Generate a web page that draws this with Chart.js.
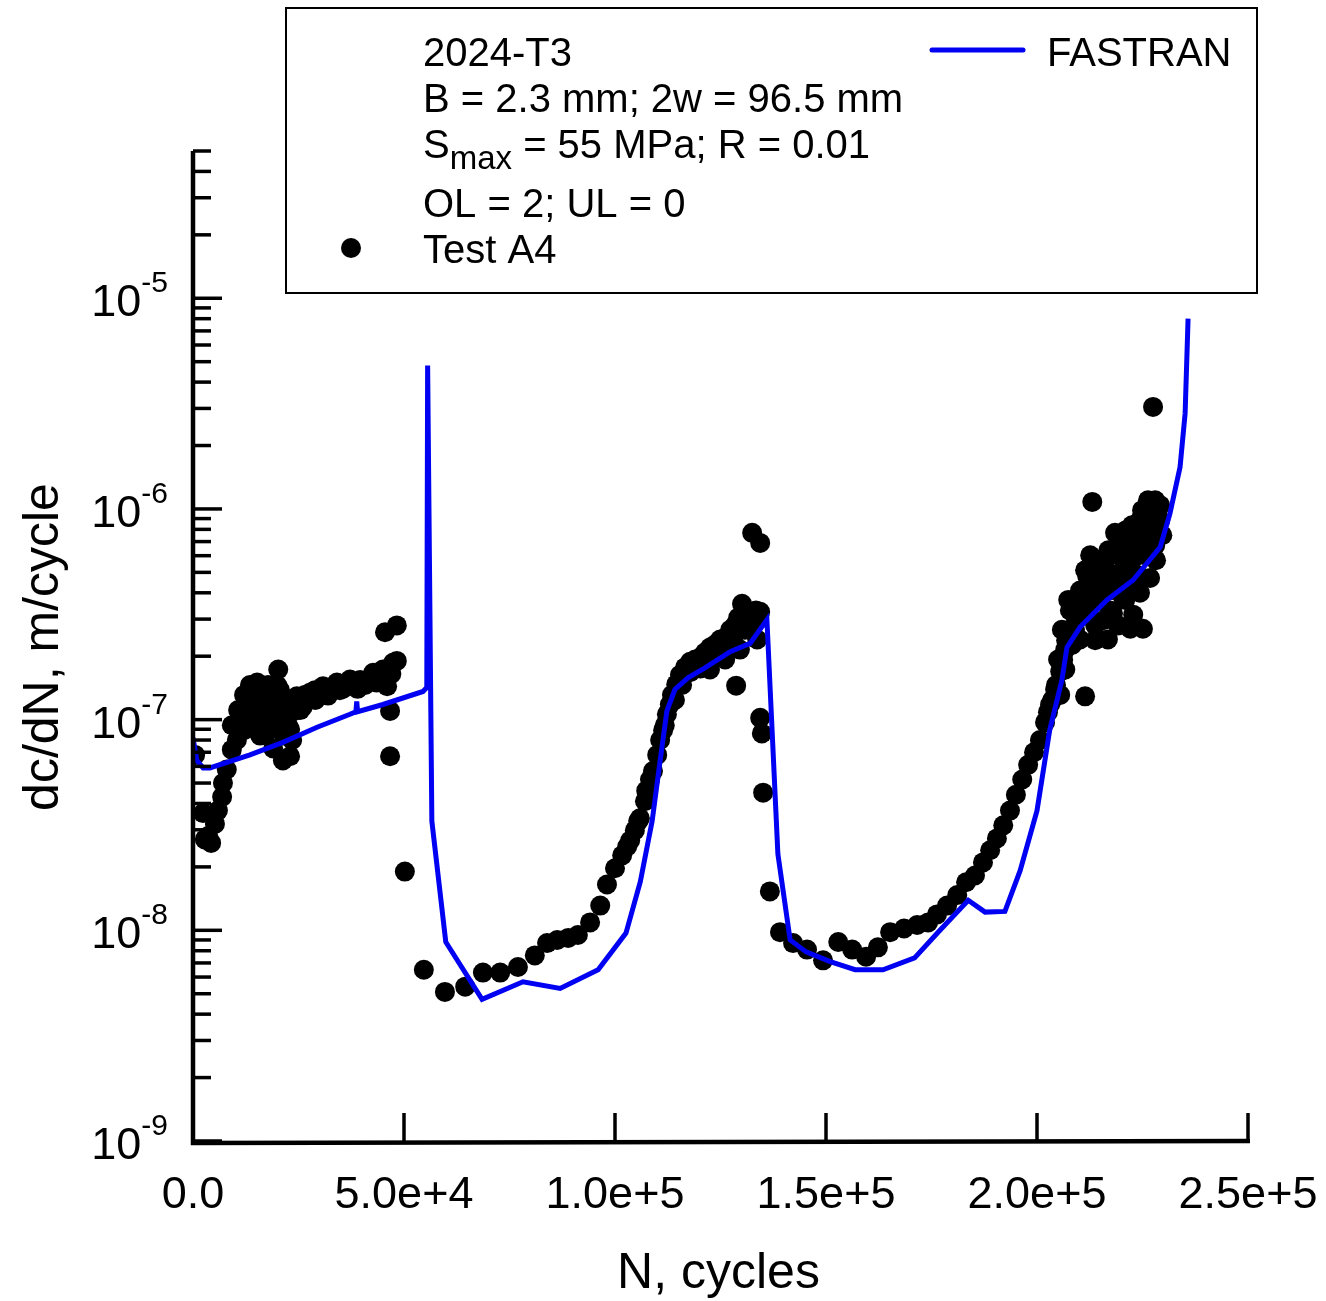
<!DOCTYPE html>
<html>
<head>
<meta charset="utf-8">
<script src="https://cdn.jsdelivr.net/npm/chart.js@4.4.1/dist/chart.umd.min.js"></script>
<style>
  html, body { margin: 0; padding: 0; background: #fff; }
  #wrap { width: 1326px; height: 1301px; }
</style>
</head>
<body>
<div id="wrap"><canvas id="chartContainer" width="1326" height="1301"></canvas></div>
<script>
// FASTRAN prediction (N cycles, dc/dN m/cycle)
var fastranN = [0, 900, 2400, 4000, 13500, 21300, 29400, 37200, 38600, 38800, 39000, 45000, 54500, 55400,
  55600, 56600, 59900, 68500, 78200, 87000, 96000, 102600, 106000, 108800, 110700, 112300, 114200,
  117300, 121300, 127300, 132000, 136000, 138600, 141500, 145300, 151000, 156900, 163500, 171000,
  177000, 183700, 187700, 192400, 196000, 200000, 203000, 205900, 207100, 210200, 216600, 222800,
  229200, 231500, 233900, 235100, 235800];
var fastranRate = [8.2e-8, 6.4e-8, 5.9e-8, 5.9e-8, 6.8e-8, 7.8e-8, 9.2e-8, 1.06e-7, 1.09e-7, 1.22e-7, 1.09e-7, 1.18e-7, 1.36e-7, 1.42e-7,
  4.8e-6, 3.3e-8, 8.8e-9, 4.7e-9, 5.7e-9, 5.3e-9, 6.5e-9, 9.7e-9, 1.7e-8, 3.3e-8, 6.4e-8, 1.1e-7, 1.39e-7,
  1.58e-7, 1.76e-7, 2.1e-7, 2.3e-7, 2.98e-7, 2.3e-8, 9.0e-9, 7.9e-9, 7.1e-9, 6.5e-9, 6.5e-9, 7.4e-9,
  1.0e-8, 1.39e-8, 1.22e-8, 1.23e-8, 1.92e-8, 3.7e-8, 8.9e-8, 1.54e-7, 2.2e-7, 2.75e-7, 3.7e-7, 4.6e-7,
  6.6e-7, 9.5e-7, 1.58e-6, 2.84e-6, 8.0e-6];

// Test A4 measurements
var testN = [500, 2400, 2800, 3600, 4300, 5200, 5900, 6900, 7100, 8000, 9200, 10400, 11000, 11900, 12800,
  13000, 13500, 14200, 15200, 15900, 16000, 16600, 17500, 18000, 18200, 19000, 19900, 20000, 20200, 21300,
  21300, 22000, 22300, 23000, 23000, 24000, 24600, 26000, 27700, 28500, 30800, 32000, 34100, 35500, 37200,
  39000, 40300, 42700, 43500, 45000, 45500, 46000, 46700, 46700, 47000, 47400, 48300, 48300, 50200,
  54700, 59700, 64500, 68700, 72800, 77000, 81000, 83900, 86300, 88900, 91200, 94100, 96500, 98100,
  100000, 101700, 103600, 104700, 105900, 107100, 108300, 109000, 110000, 110700, 111400, 112300, 113000,
  113500, 114500, 115400, 116600, 117800, 119000, 120200, 121300, 122500, 122500, 123700, 124900, 126100,
  126100, 127300, 128500, 128700, 129200, 129600, 130100, 132000, 132500, 133200, 133700, 134400, 134400,
  134400, 134800, 135100, 136700, 139100, 142200, 145500, 149300, 152900, 156200, 159500, 162300, 165200,
  168500, 171600, 174200, 176300, 178700, 181100, 183200, 185300, 187200, 188900, 190500, 192000, 193600,
  195000, 196500, 197900, 199300, 200700, 201900, 203100, 204300, 205000, 205500, 205900, 206700, 206700,
  207400, 207800, 207800, 209000, 209000, 209500, 210200, 210200, 211400, 211400, 211900, 212600, 213100,
  213800, 213800, 215000, 215000, 216100, 216800, 217300, 217300, 218000, 218500, 218500, 219200, 219700,
  220400, 220900, 220900, 222100, 222100, 222800, 223300, 224400, 224400, 225100, 225600, 226100, 226300,
  226800, 226800, 227500, 227500, 228000, 228000, 228700, 229200,
  9200, 10700, 12100, 13500, 14700, 15900, 17100, 17800, 18700, 19700, 20600, 21600, 22500, 23500, 24400,
  25400, 15900, 17800, 19700, 21600, 23500, 14700, 12100, 26500, 28900, 30100, 31300, 33700, 34800, 36000,
  38400, 39600, 40800, 41900, 43100, 44300, 26500, 29000,
  117800, 120200, 123000, 125400, 126800, 128000, 130800, 131500, 132500, 133400, 115900, 114200, 111800,
  107400, 105500, 102900,
  202600, 203600, 204500, 205500, 206200, 206900, 208300, 209300, 209700, 210900, 212100, 213100, 214000,
  214500, 215400, 216400, 216900, 217800, 218800, 219500, 220200, 221100, 221600, 222500, 223500, 224000,
  224900, 225400, 226300, 227300, 228200, 228500, 229200, 229700, 226800, 224400, 222500, 212600, 211400,
  215000, 215900, 213800];
var testRate = [6.8e-8, 3.6e-8, 2.7e-8, 2.8e-8, 2.6e-8, 3.2e-8, 3.7e-8, 4.3e-8, 5.0e-8, 5.8e-8, 7.2e-8, 8.0e-8, 9.0e-8, 1.0e-7, 1.2e-7,
  1.05e-7, 1.29e-7, 1.1e-7, 1.5e-7, 9.7e-8, 1.25e-7, 1.44e-7, 8.7e-8, 1.0e-7, 1.34e-7, 7.3e-8, 1.1e-7, 1.45e-7, 1.73e-7, 1.24e-7,
  6.4e-8, 1.2e-7, 1.03e-7, 6.7e-8, 9.0e-8, 1.1e-7, 1.29e-7, 1.15e-7, 1.34e-7, 1.25e-7, 1.44e-7, 1.3e-7, 1.5e-7, 1.4e-7, 1.55e-7,
  1.4e-7, 1.5e-7, 1.67e-7, 1.5e-7, 1.73e-7, 2.6e-7, 1.44e-7, 1.1e-7, 6.7e-8, 1.65e-7, 1.86e-7, 1.9e-7, 2.8e-7, 1.9e-8,
  6.5e-9, 5.1e-9, 5.4e-9, 6.3e-9, 6.3e-9, 6.7e-9, 7.6e-9, 8.7e-9, 9.0e-9, 9.2e-9, 9.5e-9, 1.09e-8, 1.31e-8, 1.65e-8,
  1.97e-8, 2.27e-8, 2.67e-8, 2.98e-8, 3.4e-8, 4.1e-8, 5.2e-8, 5.7e-8, 6.8e-8, 8.0e-8, 8.9e-8, 1.06e-7, 1.18e-7,
  1.31e-7, 1.47e-7, 1.63e-7, 1.77e-7, 1.88e-7, 1.93e-7, 1.97e-7, 2.08e-7, 2.2e-7, 1.73e-7, 2.27e-7, 2.4e-7, 2.45e-7,
  1.93e-7, 2.67e-7, 2.82e-7, 1.45e-7, 3.05e-7, 2.15e-7, 3.55e-7, 3.15e-7, 7.7e-7, 2.98e-7, 2.4e-7, 3.25e-7, 6.9e-7,
  1.02e-7, 8.6e-8, 4.5e-8, 1.53e-8, 9.8e-9, 8.7e-9, 8.1e-9, 7.2e-9, 8.8e-9, 8.1e-9, 7.5e-9, 8.3e-9, 9.8e-9,
  1.02e-8, 1.06e-8, 1.09e-8, 1.19e-8, 1.31e-8, 1.47e-8, 1.69e-8, 1.82e-8, 2.1e-8, 2.4e-8, 2.73e-8, 3.15e-8, 3.7e-8,
  4.4e-8, 5.2e-8, 6.1e-8, 7.0e-8, 8.0e-8, 9.7e-8, 1.18e-7, 1.39e-7, 1.93e-7, 1.69e-7, 2.67e-7, 2.15e-7, 1.73e-7,
  3.7e-7, 2.67e-7, 3.3e-7, 3.3e-7, 2.67e-7, 3.8e-7, 4.1e-7, 2.4e-7, 3.7e-7, 1.29e-7, 4.8e-7, 4.4e-7, 1.08e-6,
  5.2e-7, 2.8e-7, 4.6e-7, 5.5e-7, 5.7e-7, 2.4e-7, 4.9e-7, 3.3e-7, 3.2e-7, 6.1e-7, 7.7e-7, 2.8e-7, 7.1e-7,
  3.8e-7, 5.7e-7, 3.7e-7, 6.7e-7, 2.7e-7, 3.15e-7, 8.4e-7, 7.1e-7, 4.0e-7, 2.7e-7, 8.8e-7, 7.7e-7, 1.1e-6,
  7.9e-7, 4.7e-7, 9.6e-7, 3.05e-6, 6.7e-7, 1.1e-6, 8.8e-7, 1.04e-6,
  9.4e-8, 1.11e-7, 1.31e-7, 1.46e-7, 1.24e-7, 1.11e-7, 1.24e-7, 1.46e-7, 1.31e-7, 1.17e-7, 1.38e-7, 1.05e-7, 9.4e-8, 1.11e-7, 1.24e-7,
  1.11e-7, 8.4e-8, 8.9e-8, 9.4e-8, 8.4e-8, 8.0e-8, 9.4e-8, 8.9e-8, 1.31e-7, 1.38e-7, 1.31e-7, 1.38e-7, 1.46e-7, 1.38e-7, 1.46e-7,
  1.46e-7, 1.54e-7, 1.46e-7, 1.54e-7, 1.63e-7, 1.54e-7, 1.24e-7, 1.24e-7,
  1.68e-7, 1.75e-7, 1.92e-7, 2.09e-7, 2.27e-7, 2.4e-7, 2.67e-7, 2.98e-7, 2.72e-7, 3.3e-7, 1.46e-7, 1.24e-7, 9.4e-8,
  4.6e-8, 3.3e-8, 2.5e-8,
  1.085e-7, 1.24e-7, 1.46e-7, 1.31e-7, 1.92e-7, 2.38e-7, 2.26e-7, 2.97e-7, 3.49e-7, 4.12e-7, 3.31e-7, 4.85e-7, 3.69e-7,
  5.71e-7, 4.12e-7, 5.12e-7, 6.37e-7, 4.12e-7, 4.85e-7, 6.03e-7, 5.12e-7, 7.93e-7, 4.35e-7, 5.71e-7, 6.73e-7, 4.85e-7,
  9.87e-7, 6.03e-7, 7.11e-7, 8.37e-7, 5.71e-7, 7.93e-7, 8.84e-7, 7.5e-7, 1.04e-6, 8.84e-7, 8.37e-7, 6.03e-7, 5.12e-7,
  3.69e-7, 2.97e-7, 2.38e-7];

var xTickVals = [0, 50000, 100000, 150000, 200000, 250000];
var xTickLabels = ['0.0', '5.0e+4', '1.0e+5', '1.5e+5', '2.0e+5', '2.5e+5'];
var yDecades = [-9, -8, -7, -6, -5];

var legendLines = ['2024-T3', 'B = 2.3 mm; 2w = 96.5 mm', 'S|max| = 55 MPa; R = 0.01', 'OL = 2; UL = 0'];

var FONT = '"Liberation Sans", Arial, sans-serif';
var BLUE = '#0000f2';

function toXY(xs, ys) {
  var out = [];
  for (var i = 0; i < xs.length; i++) out.push({x: xs[i], y: ys[i]});
  return out;
}

var axesPlugin = {
  id: 'axesPlugin',
  afterDraw: function(chart) {
    var ctx = chart.ctx;
    var xs = chart.scales.x, ys = chart.scales.y;
    var left = xs.left, right = xs.right, top = ys.top, bottom = ys.bottom;
    ctx.save();
    ctx.strokeStyle = '#000';
    ctx.fillStyle = '#000';
    // axis lines
    ctx.lineWidth = 4.5;
    ctx.beginPath();
    ctx.moveTo(left, top);
    ctx.lineTo(left, bottom + 2);
    ctx.lineTo(right + 2, bottom);
    ctx.stroke();

    // x ticks + labels
    ctx.lineWidth = 3.5;
    ctx.font = '45px ' + FONT;
    ctx.textAlign = 'center';
    ctx.textBaseline = 'alphabetic';
    for (var i = 0; i < xTickVals.length; i++) {
      var px = xs.getPixelForValue(xTickVals[i]);
      ctx.beginPath();
      ctx.moveTo(px, bottom);
      ctx.lineTo(px, bottom - 28);
      ctx.stroke();
      ctx.fillText(xTickLabels[i], px, bottom + 67);
    }

    // y ticks (major + minor) and 10^n labels
    for (var d = 0; d < yDecades.length; d++) {
      var e = yDecades[d];
      for (var m = 1; m <= 9; m++) {
        var v = m * Math.pow(10, e);
        if (v > ys.max * 1.0001) break;
        var py = ys.getPixelForValue(v);
        ctx.beginPath();
        ctx.moveTo(left, py);
        ctx.lineTo(left + (m === 1 ? 29 : 18), py);
        ctx.stroke();
      }
      var py0 = ys.getPixelForValue(Math.pow(10, e));
      ctx.textAlign = 'left';
      ctx.font = '30px ' + FONT;
      var sup = String(e);
      var supW = ctx.measureText(sup).width;
      ctx.font = '45px ' + FONT;
      var baseW = ctx.measureText('10').width;
      var rightEdge = left - 25;
      ctx.fillText('10', rightEdge - supW - baseW, py0 + 18);
      ctx.font = '30px ' + FONT;
      ctx.fillText(sup, rightEdge - supW, py0 - 6);
    }

    // axis titles
    ctx.font = '50px ' + FONT;
    ctx.textAlign = 'center';
    ctx.fillText('N, cycles', (left + right) / 2 - 2, bottom + 147);
    ctx.save();
    ctx.translate(58, (top + bottom) / 2 + 1);
    ctx.rotate(-Math.PI / 2);
    ctx.fillText('dc/dN, m/cycle', 0, 0);
    ctx.restore();

    // legend box
    ctx.fillStyle = '#fff';
    ctx.fillRect(286, 8, 971, 285);
    ctx.lineWidth = 2;
    ctx.strokeStyle = '#000';
    ctx.strokeRect(286, 8, 971, 285);
    ctx.fillStyle = '#000';
    ctx.textAlign = 'left';
    var baselines = [66, 112, 158, 217];
    for (var k = 0; k < legendLines.length; k++) {
      var parts = legendLines[k].split('|');
      var x = 423;
      ctx.font = '40px ' + FONT;
      ctx.fillText(parts[0], x, baselines[k]);
      if (parts.length > 1) {
        x += ctx.measureText(parts[0]).width;
        ctx.font = '33px ' + FONT;
        ctx.fillText(parts[1], x, baselines[k] + 11);
        x += ctx.measureText(parts[1]).width;
        ctx.font = '40px ' + FONT;
        ctx.fillText(parts[2], x, baselines[k]);
      }
    }
    ctx.font = '40px ' + FONT;
    ctx.fillText(chart.data.datasets[1].label, 423, 263);
    ctx.beginPath();
    ctx.arc(351, 248, 10, 0, Math.PI * 2);
    ctx.fill();
    ctx.strokeStyle = BLUE;
    ctx.lineWidth = 5;
    ctx.lineCap = 'round';
    ctx.beginPath();
    ctx.moveTo(932, 50);
    ctx.lineTo(1023, 50);
    ctx.stroke();
    ctx.fillText(chart.data.datasets[0].label, 1047, 66);
    ctx.restore();
  }
};

new Chart(document.getElementById('chartContainer'), {
  type: 'scatter',
  data: {
    datasets: [{
      label: 'FASTRAN',
      type: 'line',
      data: toXY(fastranN, fastranRate),
      borderColor: BLUE,
      borderWidth: 5,
      pointRadius: 0,
      fill: false,
      tension: 0,
      order: 0
    }, {
      label: 'Test A4',
      data: toXY(testN, testRate),
      backgroundColor: '#000',
      borderWidth: 0,
      pointRadius: 10,
      order: 1
    }]
  },
  options: {
    responsive: false,
    animation: false,
    layout: { padding: { left: 193, right: 78, top: 151, bottom: 160 } },
    plugins: { legend: { display: false }, tooltip: { enabled: false } },
    scales: {
      x: {
        type: 'linear', min: 0, max: 250000,
        ticks: { display: false }, grid: { display: false }, border: { display: false },
        afterFit: function(s) { s.height = 0; }
      },
      y: {
        type: 'logarithmic', min: 1e-9, max: 5e-5,
        ticks: { display: false }, grid: { display: false }, border: { display: false },
        afterFit: function(s) { s.width = 0; }
      }
    }
  },
  plugins: [axesPlugin]
});
</script>
</body>
</html>
